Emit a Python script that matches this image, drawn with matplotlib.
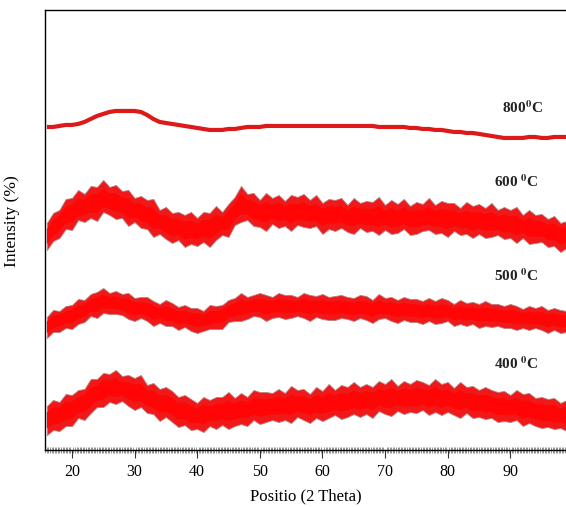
import numpy as np
import matplotlib
matplotlib.use('Agg')
import matplotlib.pyplot as plt
from matplotlib.ticker import MultipleLocator

plt.rcParams['font.family'] = ['Liberation Serif', 'DejaVu Serif']
plt.rcParams['mathtext.fontset'] = 'stix'

# 2 theta positions (degrees), one value per degree
two_theta = list(range(16, 100))

# curve centres (arbitrary intensity units, curves already offset)
c800 = [323, 323, 324, 325, 325, 326, 328, 331, 334, 336, 338, 339,
        339, 339, 339, 338, 335, 331, 328, 327, 326, 325, 324, 323,
        322, 321, 320, 320, 320, 321, 321, 322, 323, 323, 323, 324,
        324, 324, 324, 324, 324, 324, 324, 324, 324, 324, 324, 324,
        324, 324, 324, 324, 324, 323, 323, 323, 323, 323, 322, 322,
        321, 321, 320, 320, 319, 318, 318, 317, 317, 316, 315, 314,
        313, 312, 312, 312, 312, 313, 313, 312, 312, 313, 313, 313]
c600 = [213, 220, 228, 233, 237, 240, 243, 245, 247, 249, 249, 247,
        244, 241, 239, 237, 234, 231, 228, 225, 223, 221, 220, 219,
        219, 220, 221, 224, 226, 229, 238, 245, 242, 239, 237, 237,
        237, 238, 237, 236, 237, 238, 236, 235, 234, 234, 235, 234,
        233, 233, 233, 232, 232, 233, 232, 232, 231, 232, 232, 231,
        232, 232, 232, 231, 231, 230, 230, 229, 229, 228, 228, 227,
        227, 226, 225, 224, 223, 222, 221, 220, 218, 217, 215, 214]
c500 = [123, 127, 130, 132, 134, 137, 140, 143, 146, 147, 148, 147,
        145, 143, 142, 141, 140, 138, 137, 136, 135, 133, 132, 131,
        130, 130, 131, 133, 135, 137, 140, 142, 143, 144, 144, 143,
        144, 143, 144, 143, 143, 144, 143, 143, 142, 143, 142, 142,
        142, 142, 142, 142, 141, 142, 141, 141, 140, 140, 140, 139,
        139, 139, 138, 138, 138, 137, 137, 136, 136, 136, 135, 135,
        134, 134, 133, 133, 132, 132, 131, 131, 130, 130, 129, 129]
c400 = [30, 33, 36, 38, 40, 44, 48, 52, 56, 60, 62, 62,
        61, 59, 57, 56, 53, 50, 47, 45, 43, 40, 38, 36,
        35, 35, 36, 37, 38, 39, 39, 40, 41, 42, 42, 43,
        43, 44, 44, 45, 45, 45, 44, 45, 45, 46, 47, 48,
        48, 49, 49, 50, 50, 51, 51, 51, 52, 52, 52, 52,
        52, 52, 52, 51, 51, 50, 50, 49, 48, 47, 46, 45,
        44, 43, 43, 42, 41, 40, 39, 38, 37, 36, 35, 35]

# noise envelope (above / below the centre)
up600 = [14, 17, 12, 18, 15, 20, 13, 19, 16, 21, 14, 18,
         15, 19, 13, 17, 16, 20, 12, 18, 14, 17, 15, 19,
         13, 18, 16, 20, 12, 17, 15, 19, 14, 18, 13, 20,
         15, 17, 12, 19, 16, 18, 14, 20, 13, 17, 15, 18,
         12, 19, 14, 17, 16, 20, 13, 18, 15, 19, 12, 17,
         14, 20, 13, 18, 16, 17, 12, 19, 15, 18, 14, 20,
         13, 17, 15, 19, 12, 18, 14, 16, 13, 17, 12, 15]
dn600 = [13, 11, 16, 12, 17, 10, 15, 13, 18, 11, 14, 16,
         12, 17, 11, 15, 13, 18, 12, 14, 16, 11, 17, 13,
         15, 12, 18, 14, 11, 16, 13, 17, 12, 15, 14, 18,
         11, 16, 13, 17, 12, 15, 14, 11, 18, 13, 16, 12,
         15, 17, 11, 14, 13, 18, 12, 16, 14, 11, 17, 15,
         13, 12, 16, 14, 18, 11, 15, 13, 17, 12, 16, 14,
         12, 15, 13, 17, 11, 16, 14, 12, 15, 13, 17, 12]
up500 = [10, 13, 9, 12, 11, 14, 10, 13, 12, 15, 9, 12,
         11, 14, 10, 12, 13, 11, 9, 14, 12, 10, 13, 11,
         12, 9, 14, 11, 10, 13, 12, 15, 10, 11, 13, 12,
         9, 14, 11, 12, 10, 13, 12, 11, 14, 10, 12, 13,
         11, 10, 13, 12, 9, 14, 11, 12, 10, 13, 11, 12,
         10, 13, 11, 14, 12, 9, 13, 11, 12, 10, 14, 11,
         12, 10, 13, 11, 9, 12, 11, 13, 10, 12, 11, 10]
dn500 = [11, 9, 12, 10, 13, 11, 12, 9, 14, 10, 12, 11,
         10, 12, 13, 9, 11, 14, 10, 12, 11, 13, 9, 12,
         13, 11, 10, 12, 14, 9, 11, 13, 12, 10, 11, 14,
         12, 10, 13, 11, 9, 12, 14, 10, 11, 13, 12, 10,
         11, 13, 10, 12, 14, 11, 9, 12, 13, 10, 12, 11,
         13, 10, 12, 11, 9, 13, 11, 12, 10, 14, 11, 12,
         10, 12, 11, 13, 10, 12, 9, 11, 13, 10, 12, 11]
up400 = [14, 17, 12, 18, 15, 16, 13, 19, 15, 17, 14, 18,
         13, 16, 15, 19, 12, 17, 14, 18, 16, 13, 17, 15,
         12, 18, 14, 16, 15, 19, 13, 17, 12, 18, 16, 15,
         14, 17, 13, 19, 15, 16, 12, 18, 14, 20, 13, 17,
         15, 19, 14, 16, 13, 18, 15, 20, 12, 17, 14, 18,
         16, 13, 19, 15, 17, 12, 18, 14, 16, 13, 17, 15,
         14, 16, 12, 18, 15, 17, 13, 15, 14, 16, 12, 15]
dn400 = [15, 13, 17, 14, 16, 12, 18, 15, 13, 17, 14, 16,
         12, 15, 17, 13, 16, 14, 18, 12, 15, 17, 13, 16,
         14, 17, 12, 16, 13, 18, 15, 14, 17, 12, 16, 15,
         13, 16, 14, 18, 12, 15, 17, 13, 16, 14, 12, 17,
         15, 13, 16, 14, 18, 12, 15, 17, 13, 16, 14, 15,
         12, 17, 14, 16, 13, 15, 18, 12, 16, 14, 15, 13,
         16, 14, 15, 12, 17, 13, 15, 16, 14, 15, 13, 16]

labels = ['800', '600', '500', '400']

x = np.array(two_theta)
fig = plt.figure(figsize=(5.66, 5.07), dpi=100)
ax = fig.add_axes([0.0795, 0.1124, 0.9205, 0.868])

# noisy patterns drawn as bands between the read envelopes
for c, up, dn in [(c600, up600, dn600), (c500, up500, dn500), (c400, up400, dn400)]:
    c = np.array(c)
    ax.fill_between(x, c - np.array(dn), c + np.array(up),
                    facecolor='#f01818', edgecolor='#b88080', linewidth=0.6)
    ax.fill_between(x, c - np.array(dn) * 0.55, c + np.array(up) * 0.55,
                    facecolor='#ff0505', edgecolor='none')

ax.plot(x, c800, color='#dc1a1a', lw=3.0, solid_capstyle='butt')

# temperature labels
for lab, tx, ty in zip(labels, [88.7, 87.4, 87.4, 87.4], [342, 268, 174, 86]):
    sep = '' if lab == '800' else ' '
    ax.text(tx, ty, lab + sep + r'$^{\mathbf{0}}$C', fontsize=11, fontweight='bold',
            ha='left', va='center', color='#222222')

ax.set_xlim(15.7, 98.9)
ax.set_ylim(0, 440)
ax.set_yticks([])
ax.xaxis.set_major_locator(MultipleLocator(10))
ax.xaxis.set_minor_locator(MultipleLocator(0.25))
ax.tick_params(axis='x', which='major', direction='out', length=6, width=0.8,
               labelsize=11.5, pad=4, color='#333333')
ax.tick_params(axis='x', which='minor', direction='inout', length=5, width=0.4,
               color='#444444')
ax.spines['right'].set_visible(False)
for s in ['left', 'top', 'bottom']:
    ax.spines[s].set_linewidth(1.0)

ax.set_xlabel('Positio (2 Theta)', fontsize=12, labelpad=6)
ax.set_ylabel('Intensity (%)', fontsize=12.5)
ax.yaxis.set_label_coords(-0.048, 0.52)

fig.savefig('out.png', dpi=100)
